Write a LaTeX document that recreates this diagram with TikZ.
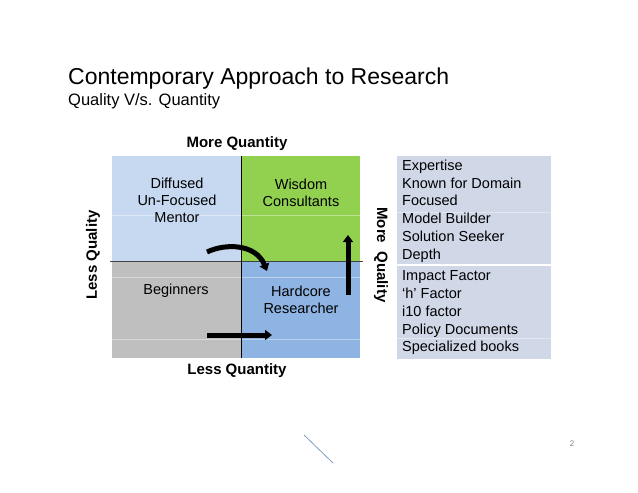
\documentclass[tikz,border=0pt]{standalone}
\usepackage{fontspec}
\setmainfont{Liberation Sans}
\usetikzlibrary{arrows.meta}
\definecolor{qtl}{HTML}{C6D9F1}
\definecolor{qtr}{HTML}{92D050}
\definecolor{qbl}{HTML}{BFBFBF}
\definecolor{qbr}{HTML}{8DB4E2}
\definecolor{tbl}{HTML}{D0D8E8}
\definecolor{slash}{HTML}{7F9FC0}
\tikzset{
  cell/.style={align=center, font=\fontsize{14.5}{17}\selectfont, inner sep=0pt},
  axis/.style={font=\bfseries\fontsize{15}{18}\selectfont, inner sep=0pt},
  listtxt/.style={align=left, font=\fontsize{14.5}{17.8}\selectfont, inner sep=0pt, anchor=north west},
  bigarrow/.style={line width=5pt, -{Triangle[length=7pt,width=10pt]}},
  faint/.style={white, opacity=0.4, line width=0.6pt}
}
\begin{document}
\begin{tikzpicture}[x=1pt,y=-1pt]
\useasboundingbox (0,0) rectangle (638,493);
% title
\node[anchor=base west, inner sep=0pt, font=\fontsize{23}{27}\selectfont] (title) at (68,84) {Contemporary Approach to Research};
\node[anchor=base west, inner sep=0pt, font=\fontsize{16.5}{19}\selectfont] (sub) at (68,105) {Quality V/s. Quantity};
% quadrants
\fill[qtl] (112,156) rectangle (241,261);
\fill[qtr] (241,156) rectangle (360,261);
\fill[qbl] (112,261) rectangle (241,358);
\fill[qbr] (241,261) rectangle (360,358);
\draw[faint] (112,215) -- (360,215);
\draw[faint] (112,277) -- (360,277);
\draw[faint] (112,339) -- (360,339);
\draw[black!75, line width=0.7pt] (110,261) -- (363,261);
\draw[black, line width=0.5pt] (241,156) -- (241,358);
% cell texts
\node[cell] (diff) at (177,200) {Diffused\\Un-Focused\\Mentor};
\node[cell] (wis) at (301,192.5) {Wisdom\\Consultants};
\node[cell] (beg) at (176,291) {Beginners};
\node[cell] (hard) at (301,299.5) {Hardcore\\Researcher};
% axis labels
\node[axis] (mq) at (237,144) {More Quantity};
\node[axis] (lq) at (237,371) {Less Quantity};
\node[axis, rotate=90] (lqual) at (93,255) {Less Quality};
\node[axis, rotate=-90] (mqual) at (381,255) {More\ \ Quality};
% arrows
\coordinate (ca1) at (207,252);
\coordinate (ca2) at (267,271);
\draw[bigarrow] (ca1) .. controls (226,243) and (256,244) .. (ca2);
\coordinate (ua1) at (348,295);
\coordinate (ua2) at (348,235);
\draw[bigarrow] (ua1) -- (ua2);
\coordinate (ra1) at (207,335);
\coordinate (ra2) at (272,335);
\draw[bigarrow] (ra1) -- (ra2);
% right table
\fill[tbl] (397,156) rectangle (551,359);
\draw[faint] (397,212) -- (551,212);
\draw[white, line width=1.2pt] (397,265) -- (551,265);
\draw[faint] (397,338.5) -- (551,338.5);
\node[listtxt] (list1) at (402,159.5) {Expertise\\Known for Domain\\Focused\\Model Builder\\Solution Seeker\\Depth};
\node[listtxt] (list2) at (402,270.5) {Impact Factor\\‘h’ Factor\\i10 factor\\Policy Documents\\Specialized books};
% footer
\coordinate (s1) at (304,435);
\coordinate (s2) at (333,463);
\draw[slash, line width=0.8pt] (s1) -- (s2);
\node[inner sep=0pt, text=black!50, font=\fontsize{8}{9}\selectfont] (pg) at (572,444) {2};
\end{tikzpicture}
\end{document}
